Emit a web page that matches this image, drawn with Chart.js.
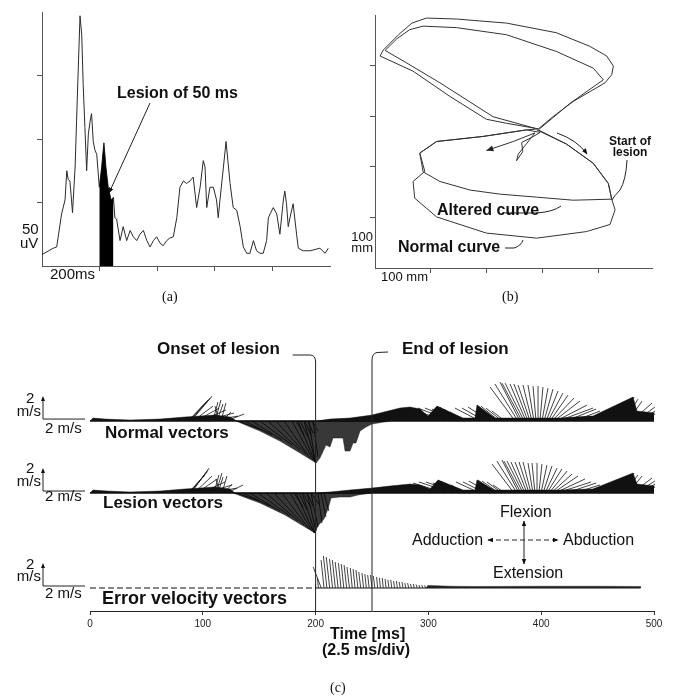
<!DOCTYPE html>
<html>
<head>
<meta charset="utf-8">
<script src="https://cdn.jsdelivr.net/npm/chart.js@4.4.1/dist/chart.umd.min.js"></script>
<style>
  body { margin: 0; background: #fff; }
  #page { position: relative; width: 676px; height: 697px; overflow: hidden; font-family: "Liberation Sans", Arial, sans-serif; color: #111; }
  canvas { position: absolute; }
  svg { position: absolute; left: 0; top: 0; }
  .t { position: absolute; white-space: nowrap; line-height: 1; }
  .b { font-weight: bold; }
  .cap { font-family: "Liberation Serif", "Times New Roman", serif; font-size: 14px; }
</style>
</head>
<body>
<div id="page">
  <canvas id="chartA" width="340" height="290" style="left:0;top:0"></canvas>
  <canvas id="chartB" width="336" height="290" style="left:340px;top:0"></canvas>
  <canvas id="chartC" width="676" height="367" style="left:0;top:330px"></canvas>

  <svg width="676" height="697">
    <defs>
      <marker id="ah" viewBox="0 0 10 10" refX="9" refY="5" markerWidth="6" markerHeight="6" orient="auto-start-reverse">
        <path d="M0,1 L10,5 L0,9 z" fill="#111"/>
      </marker>
    </defs>
    <g fill="none" stroke="#222" stroke-width="1">
      <!-- (a) pointer to the lesion -->
      <path d="M150,103 L109,193" marker-end="url(#ah)"/>
      <!-- (b) direction of motion + label leaders -->
      <path d="M557,133 Q577,140 587,154" marker-end="url(#ah)"/>
      <path d="M627,160 Q626,180 620,190 Q614,196 612,200"/>
      <path d="M505,213 L536,213 Q553,212 561,206"/>
      <path d="M505,248 L514,248 Q521,246 523,240"/>
      <!-- (c) direction key -->
      <path d="M524,521 L524,564" marker-start="url(#ah)" marker-end="url(#ah)"/>
      <path d="M488,540 L558,540" stroke-dasharray="5,3" marker-start="url(#ah)" marker-end="url(#ah)"/>
    </g>
  </svg>

  <div class="t b" style="left:117px;top:85px;font-size:16px">Lesion of 50 ms</div>
  <div class="t" style="left:22px;top:221px;font-size:15px">50</div>
  <div class="t" style="left:20px;top:235px;font-size:15px">uV</div>
  <div class="t" style="left:50px;top:266px;font-size:15px">200ms</div>
  <div class="t cap" style="left:162px;top:290px">(a)</div>

  <div class="t" style="left:340px;top:230px;width:33px;text-align:right;font-size:13px">100</div>
  <div class="t" style="left:340px;top:241px;width:33px;text-align:right;font-size:13px">mm</div>
  <div class="t" style="left:381px;top:270px;font-size:13px">100 mm</div>
  <div class="t b" style="left:603px;top:136px;width:54px;text-align:center;font-size:12px;line-height:11px">Start of<br>lesion</div>
  <div class="t b" style="left:437px;top:202px;font-size:16px">Altered curve</div>
  <div class="t b" style="left:398px;top:239px;font-size:16px">Normal curve</div>
  <div class="t cap" style="left:502px;top:290px">(b)</div>

  <div class="t b" style="left:157px;top:340px;font-size:17px">Onset of lesion</div>
  <div class="t b" style="left:402px;top:340px;font-size:17px">End of lesion</div>

  <div class="t" style="left:26px;top:390px;font-size:15px">2</div>
  <div class="t" style="left:0;top:403px;width:41px;text-align:right;font-size:15px">m/s</div>
  <div class="t" style="left:45px;top:420px;font-size:15px">2 m/s</div>
  <div class="t b" style="left:105px;top:424px;font-size:17px">Normal vectors</div>

  <div class="t" style="left:26px;top:460px;font-size:15px">2</div>
  <div class="t" style="left:0;top:473px;width:41px;text-align:right;font-size:15px">m/s</div>
  <div class="t" style="left:45px;top:488px;font-size:15px">2 m/s</div>
  <div class="t b" style="left:103px;top:494px;font-size:17px">Lesion vectors</div>

  <div class="t" style="left:26px;top:556px;font-size:15px">2</div>
  <div class="t" style="left:0;top:568px;width:41px;text-align:right;font-size:15px">m/s</div>
  <div class="t" style="left:45px;top:585px;font-size:15px">2 m/s</div>
  <div class="t b" style="left:102px;top:589px;font-size:18px">Error velocity vectors</div>

  <div class="t" style="left:500px;top:504px;font-size:16px">Flexion</div>
  <div class="t" style="left:412px;top:532px;font-size:16px">Adduction</div>
  <div class="t" style="left:563px;top:532px;font-size:16px">Abduction</div>
  <div class="t" style="left:493px;top:565px;font-size:16px">Extension</div>

  <div class="t b" style="left:330px;top:626px;font-size:16px">Time [ms]</div>
  <div class="t b" style="left:322px;top:642px;font-size:16px">(2.5 ms/div)</div>
  <div class="t cap" style="left:330px;top:681px">(c)</div>
</div>

<script>
// ========== (a) EMG with 50 ms lesion ==========
const emgTimeMs = [0,39,51,68,80,86,91,97,106,115,120,126,132,138,143,149,155,161,167,172,178,184,190,199,207,215,222,230,240,248,253,259,271,282,294,306,317,329,340,352,364,375,387,398,410,421,433,444,456,468,479,491,502,514,525,537,549,560,566,572,583,595,606,612,618,630,639,653,664,676,688,699,711,722,734,745,757,768,780,786,792,803,815,826,838,843,849,855,861,872,884,890,907,931,965,983,994];
const emgMicroV = [9,14,15,41,52,75,68,67,42,78,114,156,197,182,143,109,75,104,114,120,98,91,88,62,78,97,78,62,52,54,38,37,20,31,20,28,23,20,25,28,20,15,20,23,18,16,20,22,23,38,62,67,65,67,70,46,62,83,78,46,62,62,52,38,52,78,98,65,46,44,31,15,10,10,20,12,10,10,20,38,41,46,41,25,52,59,49,31,38,49,25,14,12,12,14,10,14];
const lesionOnsetMs = 200;
const lesionEndMs = 250;
const emgXTicks = [200, 400, 600, 800];
const emgYTicks = [50, 100, 150];

// ========== (b) hand path, mm ==========
const normalX = [289,342,390,417,423,429,420,378,289,199,110,71,68,89,80,110,193,271,292,235,199,134,68,9,15,42,66,92,146,235,324,384,414,426,423,411,354,318,292];
const normalY = [273,245,207,167,136,115,86,72,59,69,101,138,171,191,227,250,260,273,275,286,294,339,389,419,431,461,484,494,492,484,465,438,419,399,382,366,329,299,275];
const alteredX = [286,211,116,57,18,39,62,86,146,235,324,390,408,348,292,342,390,417,423,354,289,223,170,116,86,80,110,193,271,295,280,262,264,253,256,271,286,247,199];
const alteredY = [276,299,366,405,430,453,471,478,475,461,428,395,372,325,273,245,207,167,136,134,140,146,154,171,190,227,250,260,273,268,258,248,230,212,225,246,267,250,232];
const pathTicks = [100, 200, 300, 400];

// ========== (c) velocity vectors: base time (ms), components (m/s) ==========
const timeTicks = [0, 100, 200, 300, 400, 500];

const normalVecT = [86.9,87.8,88.7,89.6,91.3,94.0,97.5,101.1,104.6,109.0,110.8,112.6,114.4,116.1,117.0,120.6,
  131.2,137.4,143.6,150.7,157.8,164.9,172.0,179.1,184.4,189.7,194.1,197.7,182.6,186.2,190.6,193.3,196.8,
  314.7,320.9,326.2,332.4,336.9,323.6,326.2,328.9,331.6,345.7,350.2,354.6,359.9,362.6,365.2,367.9,
  376.8,379.4,381.2,383.0,384.8,386.5,388.3,390.1,391.8,393.6,395.4,397.2,398.9,400.7,402.5,404.3,406.0,407.8,409.6,411.3,413.1,414.9,
  422.0,429.1,436.2,450.4,455.7,461.0,466.3,469.9,473.4,477.0,480.5,484.0,487.6,491.1];
const normalVecX = [1.57,1.65,1.74,1.83,1.74,2.0,2.26,2.61,2.61,0.43,0.52,0.52,-0.35,0.43,0.78,1.57,
  2.09,2.35,2.61,2.78,2.78,2.61,2.26,1.83,1.48,1.04,0.52,0.43,0.70,0.70,0.52,0.43,0.52,
  -2.87,-2.96,-2.87,-2.87,-2.61,-1.57,-1.57,-1.48,-1.22,-2.17,-2.0,-1.91,-1.65,-1.57,-1.39,-1.13,
  -2.17,-2.0,-1.74,-1.74,-1.65,-1.39,-1.22,-1.04,-0.78,-0.52,-0.26,0,0.26,0.52,0.78,1.04,1.30,1.57,1.91,2.26,2.70,3.04,
  2.61,2.26,1.91,1.22,1.39,1.39,1.30,1.22,1.22,1.22,1.74,1.65,1.30,0.96];
const normalVecY = [1.65,1.83,2.0,2.17,1.30,1.13,0.96,0.70,0.43,1.65,1.83,1.48,1.30,1.57,0.78,0.61,
  -0.78,-1.22,-1.65,-2.09,-2.52,-2.87,-3.22,-3.39,-3.57,-3.65,-3.48,-3.13,-1.22,-1.39,-1.22,-1.04,-0.87,
  1.04,1.13,1.13,1.04,0.87,1.30,1.22,1.04,0.78,1.13,1.13,1.22,1.39,1.30,1.13,0.87,
  2.96,3.22,3.39,3.30,3.30,3.22,3.22,3.13,3.13,3.13,3.04,3.04,2.96,2.87,2.78,2.61,2.43,2.26,2.0,1.74,1.39,1.13,
  1.04,0.87,0.70,0.70,1.04,1.39,1.74,2.09,1.91,1.74,1.57,1.22,0.87,0.61];
// dense (solid black) parts of the normal trace, above and below its baseline
const normalUpperT = [0,2.7,13.3,35.5,62.1,84.2,97.5,110.8,124.1,130.3,200.4,212.8,230.5,250,257.1,274.8,283.7,292.6,299.6,307.6,330.7,341.3,343.1,359.0,416.7,443.3,445.9,481.4,484.9,500.9,500.9];
const normalUpperV = [0,0.26,0.17,0.09,0.17,0.35,0.43,0.52,0.35,0,0,0.17,0.26,0.52,0.70,1.13,1.22,1.04,0.43,1.30,0.26,0.26,1.39,0.26,0.26,0.43,0.43,2.09,0.87,0.70,0];
const normalLowerT = [129.4,150.7,168.4,186.2,197.7,200.4,203.9,209.2,212.8,215.4,224.3,226.1,230.5,233.2,235.8,239.4,244.7,250,266];
const normalLowerV = [0,-0.87,-1.74,-2.78,-3.48,-3.65,-3.22,-2.09,-2.26,-1.48,-1.48,-2.61,-2.61,-1.91,-1.91,-0.87,-0.52,-0.26,0];

const lesionVecT = [86.9,87.8,88.7,89.6,92.2,94.9,98.4,102.0,105.5,109.9,111.7,113.5,115.2,117.0,118.8,121.5,
  129.4,135.6,141.8,148.9,156.0,163.1,170.2,177.3,182.6,188.0,192.4,195.9,180.9,185.3,188.8,192.4,195.9,202.1,204.8,207.4,
  314.7,320.9,326.2,332.4,336.9,323.6,326.2,328.9,331.6,345.7,350.2,354.6,359.9,362.6,365.2,367.9,
  375.9,378.5,380.3,382.1,383.9,385.6,387.4,389.2,391.0,392.7,394.5,396.3,398.0,399.8,401.6,403.4,405.1,406.9,408.7,410.5,412.2,414.0,
  422.0,429.1,436.2,450.4,455.7,461.0,466.3,469.9,473.4,477.0,480.5,484.0,487.6,491.1];
const lesionVecX = [1.48,1.57,1.57,1.57,1.57,1.74,2.09,2.35,2.43,0.43,0.52,0.43,-0.35,0.43,0.70,1.39,
  2.09,2.35,2.61,2.78,2.78,2.61,2.35,1.91,1.57,1.13,0.78,0.61,0.78,0.70,0.70,0.52,0.70,0.35,0.43,0.43,
  -2.78,-2.87,-2.78,-2.78,-2.52,-1.48,-1.48,-1.39,-1.13,-2.09,-1.91,-1.83,-1.57,-1.48,-1.30,-1.04,
  -1.91,-1.74,-1.48,-1.48,-1.39,-1.22,-1.04,-0.87,-0.70,-0.43,-0.26,0,0.26,0.52,0.78,1.04,1.30,1.57,1.83,2.17,2.61,2.96,
  2.61,2.26,1.91,1.22,1.39,1.39,1.30,1.22,1.22,1.22,1.74,1.65,1.30,0.96];
const lesionVecY = [1.57,1.83,2.0,2.17,1.48,1.22,0.96,0.70,0.43,1.57,1.74,1.39,1.22,1.48,0.78,0.70,
  -0.70,-1.13,-1.57,-2.0,-2.43,-2.78,-3.13,-3.30,-3.48,-3.48,-3.30,-2.96,-1.22,-1.48,-1.30,-1.13,-0.96,-2.61,-2.09,-1.57,
  0.87,0.96,0.96,0.87,0.70,1.13,1.04,0.87,0.70,0.96,0.96,1.04,1.13,1.04,0.96,0.70,
  2.52,2.78,2.87,2.78,2.78,2.70,2.70,2.70,2.70,2.61,2.61,2.61,2.52,2.43,2.35,2.17,2.09,1.91,1.65,1.48,1.22,0.96,
  0.87,0.70,0.61,0.52,0.87,1.22,1.48,1.74,1.57,1.48,1.30,1.04,0.78,0.52];
const lesionUpperT = [0,2.7,15.1,35.5,62.1,84.2,97.5,110.8,124.1,128.5,200.4,212.8,230.5,250,266,283.7,292.6,301.4,308.5,330.7,341.3,343.1,358.2,416.7,445.9,481.4,484.9,500.9,500.9];
const lesionUpperV = [0,0.26,0.17,0.09,0.17,0.35,0.43,0.52,0.35,0,0,0.09,0.26,0.43,0.61,0.78,0.70,0.35,1.13,0.26,0.26,1.13,0.26,0.26,0.35,1.74,0.78,0.61,0];
const lesionLowerT = [126.8,150.7,172.9,190.6,199.5,202.1,207.4,211.0,213.7,221.6,230.5,237.6,250];
const lesionLowerV = [0,-0.87,-1.91,-2.96,-3.48,-2.87,-2.26,-1.39,-0.43,-0.35,-0.35,-0.17,0];

const errorVecT = [200,202.5,205,207.5,210,212.5,215,217.5,220,222.5,225,227.5,230,232.5,235,237.5,240,242.5,245,247.5,250,252.5,255,257.5,260,262.5,265,267.5,270,272.5,275,277.5,280,282.5,285,287.5,290,292.5,295,297.5,300,305,310,315,320];
const errorVecX = [0,-0.09,-0.70,-0.26,-0.30,-0.30,-0.26,-0.26,-0.26,-0.22,-0.22,-0.22,-0.22,-0.17,-0.17,-0.17,-0.17,-0.13,-0.13,-0.13,-0.13,-0.13,-0.09,-0.09,-0.09,-0.09,-0.09,-0.09,-0.09,-0.09,-0.09,-0.09,-0.09,-0.09,-0.09,-0.09,-0.09,-0.09,-0.09,-0.09,-0.09,-0.09,-0.09,-0.09,-0.09];
const errorVecY = [0.35,0.87,1.83,2.43,2.78,2.70,2.52,2.43,2.26,2.17,2.09,2.0,1.83,1.74,1.65,1.57,1.39,1.30,1.22,1.13,1.13,1.04,0.96,0.87,0.87,0.78,0.70,0.70,0.61,0.61,0.52,0.52,0.43,0.43,0.35,0.35,0.30,0.26,0.26,0.22,0.22,0.17,0.17,0.13,0.13];
const errorUpperT = [297.5,300,320,340,400,450,488,488];
const errorUpperV = [0,0.22,0.15,0.13,0.15,0.15,0.13,0];

// ---- drawing scale of panel (c) ----
const MS_PER_MPS = 10.2;   // a vector's horizontal m/s drawn on the time axis (same px as vertical)
const ROW_NORMAL = 16.52;  // row baselines, m/s above the time axis
const ROW_LESION = 10.26;
const ROW_ERROR = 2.0;
const C_Y_MAX = 23.57;

Chart.defaults.font.family = "'Liberation Sans', Arial, sans-serif";
Chart.defaults.color = '#222';

const fixWidth = w => s => { s.width = w; };
const fixHeight = h => s => { s.height = h; };
const setTicks = arr => s => { s.ticks = arr.map(v => ({ value: v })); };
const baseOpts = {
  responsive: false, animation: false, events: [],
  plugins: { legend: { display: false }, tooltip: { enabled: false } },
  elements: { point: { radius: 0 }, line: { tension: 0 } }
};
const axisLook = (tickArr, afterFit) => ({
  type: 'linear',
  afterBuildTicks: setTicks(tickArr),
  afterFit,
  ticks: { display: false },
  grid: { drawOnChartArea: false, drawTicks: true, tickLength: 5, color: '#555' },
  border: { display: true, color: '#555', width: 1 }
});

const xy = (xs, ys, off = 0) => xs.map((v, i) => ({ x: v, y: ys[i] + off }));

// ========== Chart (a) ==========
const emgPts = xy(emgTimeMs, emgMicroV);
new Chart(document.getElementById('chartA'), {
  type: 'line',
  data: { datasets: [
    { data: emgPts.filter(p => p.x >= lesionOnsetMs - 2 && p.x <= lesionEndMs - 1), borderWidth: 0, backgroundColor: '#000', fill: 'origin' },
    { data: emgPts, borderColor: '#2a2a2a', borderWidth: 1, fill: false }
  ]},
  options: { ...baseOpts,
    layout: { padding: { left: 0, right: 10, top: 12, bottom: 0 } },
    scales: {
      x: { ...axisLook(emgXTicks, fixHeight(24)), min: 0, max: 1000 },
      y: { ...axisLook(emgYTicks, fixWidth(42)), min: 0, max: 200 }
    }
  }
});

// ========== Chart (b) ==========
const arrowAtEnd = {
  id: 'arrowAtEnd',
  afterDatasetsDraw(chart) {
    const pts = chart.getDatasetMeta(1).data;
    const a = pts[pts.length - 2], b = pts[pts.length - 1];
    const ang = Math.atan2(b.y - a.y, b.x - a.x);
    const ctx = chart.ctx;
    ctx.save();
    ctx.translate(b.x, b.y); ctx.rotate(ang);
    ctx.fillStyle = '#222';
    ctx.beginPath(); ctx.moveTo(0, 0); ctx.lineTo(-7, -3); ctx.lineTo(-7, 3); ctx.closePath(); ctx.fill();
    ctx.restore();
  }
};
new Chart(document.getElementById('chartB'), {
  type: 'line',
  data: { datasets: [
    { label: 'Normal curve', data: xy(normalX, normalY), borderColor: '#333', borderWidth: 1, fill: false },
    { label: 'Altered curve', data: xy(alteredX, alteredY), borderColor: '#333', borderWidth: 1, fill: false }
  ]},
  options: { ...baseOpts,
    layout: { padding: { left: 0, right: 24, top: 15, bottom: 0 } },
    scales: {
      x: { ...axisLook(pathTicks, fixHeight(22)), min: 0, max: 495 },
      y: { ...axisLook(pathTicks, fixWidth(35)), min: 0, max: 500 }
    }
  },
  plugins: [arrowAtEnd]
});

// ========== Chart (c) ==========
function vectorSegments(base, ts, vx, vy) {
  const pts = [];
  const n = Math.min(ts.length, vx.length, vy.length);
  for (let i = 0; i < n; i++) {
    pts.push({ x: ts[i], y: base }, { x: ts[i] + vx[i] * MS_PER_MPS, y: base + vy[i] }, { x: ts[i], y: null });
  }
  return pts;
}
const band = (ts, vs, base, color) => ({ data: xy(ts, vs, base), borderWidth: 0.5, borderColor: color, backgroundColor: color, fill: { value: base }, clip: false });
const vecSet = (base, ts, vx, vy) => ({ data: vectorSegments(base, ts, vx, vy), borderColor: '#111', borderWidth: 0.8, fill: false, spanGaps: false, clip: false });
const baseLine = (base, t0, t1, w, dash) => ({ data: [{ x: t0, y: base }, { x: t1, y: base }], borderColor: '#111', borderWidth: w, borderDash: dash || [], fill: false, clip: false });

const lesionMarks = {
  id: 'lesionMarks',
  afterDatasetsDraw(chart) {
    const { ctx, chartArea, scales: { x, y } } = chart;
    const x0 = x.getPixelForValue(lesionOnsetMs), x1 = x.getPixelForValue(lesionEndMs);
    ctx.save();
    ctx.strokeStyle = '#222'; ctx.lineWidth = 1;
    ctx.beginPath();
    ctx.moveTo(x0 - 23, 25); ctx.lineTo(x0 - 5, 25); ctx.quadraticCurveTo(x0, 25.5, x0, 32); ctx.lineTo(x0, chartArea.bottom);
    ctx.moveTo(x1 + 16, 22); ctx.lineTo(x1 + 5, 22.5); ctx.quadraticCurveTo(x1, 23.5, x1, 30); ctx.lineTo(x1, chartArea.bottom);
    ctx.stroke();
    // 2 m/s scale bars at the left of each row
    [ROW_NORMAL, ROW_LESION, ROW_ERROR].forEach(r => {
      const yb = y.getPixelForValue(r) - 2, yt = y.getPixelForValue(r + 2) - 2;
      ctx.beginPath();
      ctx.moveTo(43, yb); ctx.lineTo(43, yt + 3);
      ctx.moveTo(43, yb); ctx.lineTo(85, yb);
      ctx.stroke();
      ctx.fillStyle = '#111';
      ctx.beginPath(); ctx.moveTo(43, yt); ctx.lineTo(41, yt + 5); ctx.lineTo(45, yt + 5); ctx.closePath(); ctx.fill();
    });
    ctx.restore();
  }
};

new Chart(document.getElementById('chartC'), {
  type: 'line',
  data: { datasets: [
    band(normalUpperT, normalUpperV, ROW_NORMAL, '#111'),
    band(normalLowerT, normalLowerV, ROW_NORMAL, 'rgba(0,0,0,0.78)'),
    vecSet(ROW_NORMAL, normalVecT, normalVecX, normalVecY),
    baseLine(ROW_NORMAL, 0, 500, 1.5),

    band(lesionUpperT, lesionUpperV, ROW_LESION, '#111'),
    band(lesionLowerT, lesionLowerV, ROW_LESION, 'rgba(0,0,0,0.78)'),
    vecSet(ROW_LESION, lesionVecT, lesionVecX, lesionVecY),
    baseLine(ROW_LESION, 0, 500, 1.5),

    band(errorUpperT, errorUpperV, ROW_ERROR, '#222'),
    vecSet(ROW_ERROR, errorVecT, errorVecX, errorVecY),
    baseLine(ROW_ERROR, 0, lesionOnsetMs, 1, [6, 3]),
    baseLine(ROW_ERROR, lesionOnsetMs, 488, 1)
  ]},
  options: { ...baseOpts,
    layout: { padding: { left: 90, right: 22, top: 10, bottom: 0 } },
    scales: {
      x: {
        type: 'linear', min: 0, max: 500,
        afterBuildTicks: setTicks(timeTicks),
        afterFit: fixHeight(86),
        ticks: { display: true, padding: 3, font: { size: 10 }, color: '#222', maxRotation: 0 },
        grid: { drawOnChartArea: false, drawTicks: true, tickLength: 4, color: '#333' },
        border: { display: true, color: '#222', width: 1 }
      },
      y: { type: 'linear', display: false, min: 0, max: C_Y_MAX }
    }
  },
  plugins: [lesionMarks]
});
</script>
</body>
</html>
